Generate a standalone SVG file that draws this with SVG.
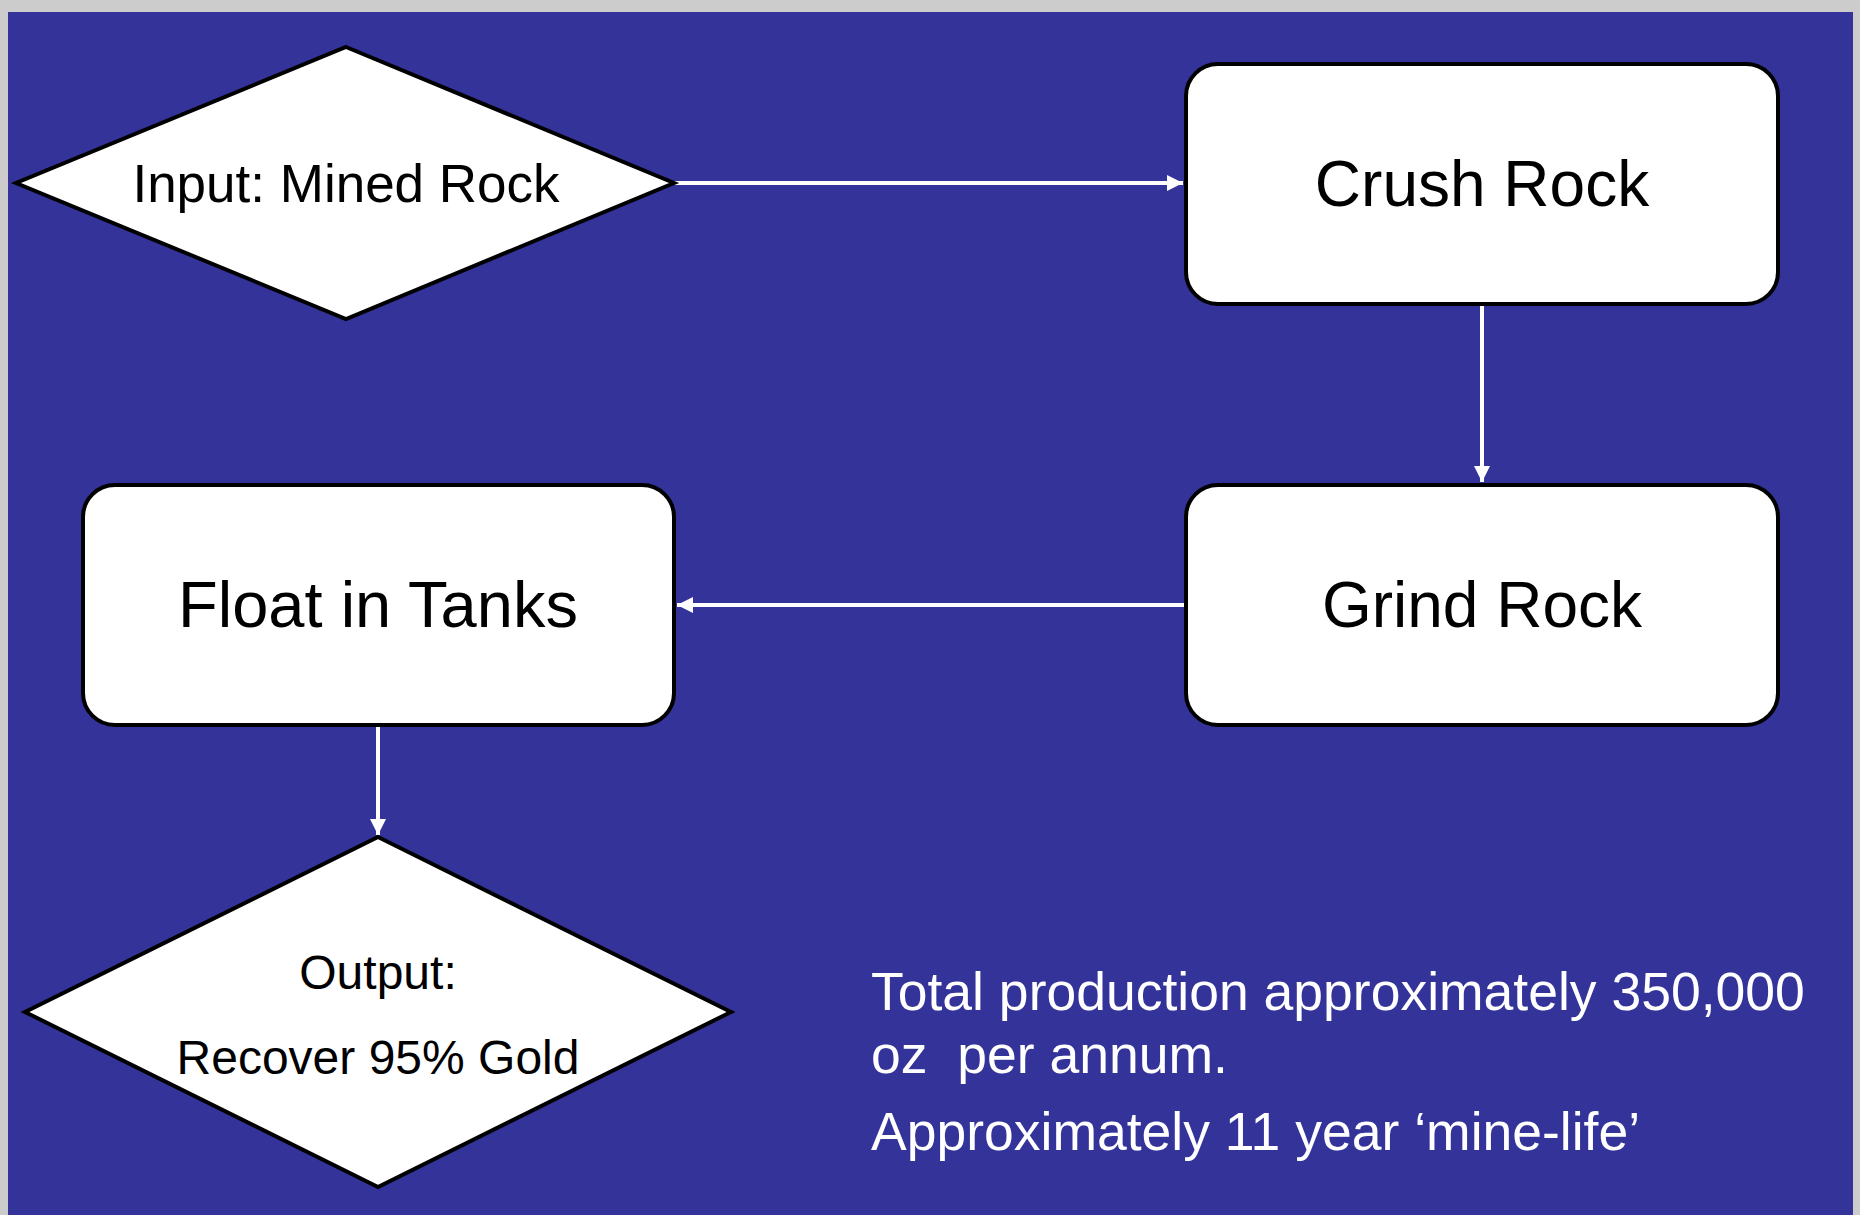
<svg xmlns="http://www.w3.org/2000/svg" width="1860" height="1215" viewBox="0 0 1860 1215">
<defs>
<style>
.node{fill:#ffffff;stroke:#000000;stroke-width:4;stroke-linejoin:miter}
.lbl{font-family:"Liberation Sans",Arial,sans-serif;fill:#000000;text-anchor:middle}
.conn{stroke:#ffffff;stroke-width:4;fill:none}
.note{font-family:"Liberation Sans",Arial,sans-serif;fill:#ffffff;font-size:53.5px;white-space:pre}
</style>
<marker id="arr" markerUnits="userSpaceOnUse" markerWidth="16" markerHeight="16" refX="16" refY="8" orient="auto">
<path d="M0,0 L16,8 L0,16 Z" fill="#ffffff"/>
</marker>
</defs>
<rect x="0" y="0" width="1860" height="1215" fill="#cccccc"/>
<rect x="8" y="12" width="1845" height="1203" fill="#333399"/>
<g id="connectors">
<path class="conn" d="M674,183 H1183" marker-end="url(#arr)"/>
<path class="conn" d="M1482,306 V482" marker-end="url(#arr)"/>
<path class="conn" d="M1185,605 H677" marker-end="url(#arr)"/>
<path class="conn" d="M378,727 V835" marker-end="url(#arr)"/>
</g>
<g id="input">
<polygon class="node" points="346,47 674,183 346,319 16,183"/>
<text class="lbl" x="346" y="202" font-size="53">Input: Mined Rock</text>
</g>
<g id="crush">
<rect class="node" x="1186" y="64" width="592" height="240" rx="32" ry="32"/>
<text class="lbl" x="1482" y="206" font-size="64">Crush Rock</text>
</g>
<g id="grind">
<rect class="node" x="1186" y="485" width="592" height="240" rx="32" ry="32"/>
<text class="lbl" x="1482" y="627" font-size="64">Grind Rock</text>
</g>
<g id="float">
<rect class="node" x="83" y="485" width="591" height="240" rx="32" ry="32"/>
<text class="lbl" x="378" y="627" font-size="65">Float in Tanks</text>
</g>
<g id="output">
<polygon class="node" points="378,837 731,1012 378,1187 25,1012"/>
<text class="lbl" x="378" y="989" font-size="48">Output:</text>
<text class="lbl" x="378" y="1074" font-size="48">Recover 95% Gold</text>
</g>
<g id="notes">
<text class="note" x="871" y="1010">Total production approximately 350,000</text>
<text class="note" x="871" y="1073" xml:space="preserve">oz  per annum.</text>
<text class="note" x="871" y="1150">Approximately 11 year ‘mine-life’</text>
</g>
</svg>
